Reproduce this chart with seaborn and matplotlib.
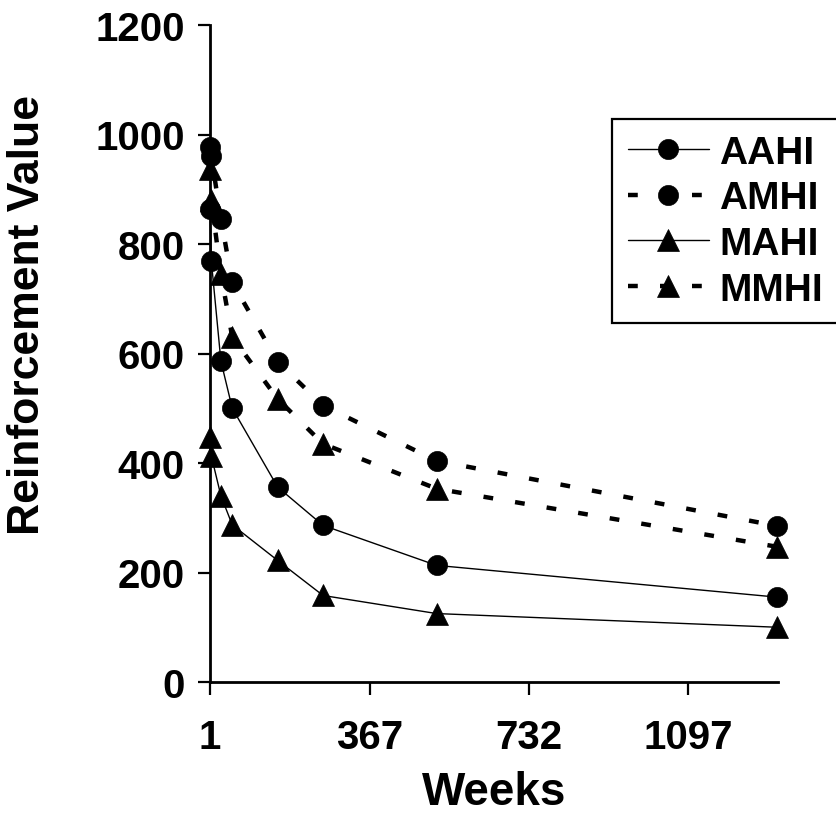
import matplotlib
matplotlib.use('Agg')
import matplotlib.pyplot as plt
import seaborn as sns
import pandas as pd

# ---- data ----
weeks = [1, 4, 26, 52, 156, 260, 520, 1300]
aahi = [864, 769, 586, 500, 356, 286, 213, 155]
amhi = [977, 960, 846, 730, 585, 505, 404, 285]
mahi = [447, 413, 340, 287, 222, 158, 125, 100]
mmhi = [937, 880, 745, 630, 517, 435, 353, 247]
series_names = ['AAHI', 'AMHI', 'MAHI', 'MMHI']
x_ticks = [1, 367, 732, 1097]
y_ticks = [0, 200, 400, 600, 800, 1000, 1200]

sns.set_theme(style='white')
plt.rcParams['font.family'] = ['Liberation Sans', 'DejaVu Sans']
plt.rcParams['font.weight'] = 'bold'

fig = plt.figure(figsize=(8.36, 8.20), dpi=100)
ax = fig.add_axes([210 / 836, 1 - 683 / 820, 568 / 836, 657 / 820])

values = {'AAHI': aahi, 'AMHI': amhi, 'MAHI': mahi, 'MMHI': mmhi}
dash = (0, (2.2, 5.0))
styles = {
    'AAHI': dict(marker='o', markersize=14.5, linewidth=1.0, linestyle='-'),
    'AMHI': dict(marker='o', markersize=14.5, linewidth=3.2, linestyle=dash),
    'MAHI': dict(marker='^', markersize=16.5, linewidth=1.0, linestyle='-'),
    'MMHI': dict(marker='^', markersize=16.5, linewidth=3.2, linestyle=dash),
}

for name in series_names:
    df = pd.DataFrame({'Weeks': weeks, 'Value': values[name]})
    sns.lineplot(data=df, x='Weeks', y='Value', ax=ax, color='black',
                 markeredgecolor='black', markerfacecolor='black',
                 markeredgewidth=0.5, label=name, estimator=None,
                 clip_on=False, **styles[name])

ax.set_xlim(1, 1302)
ax.set_ylim(0, 1200)
ax.set_xticks(x_ticks)
ax.set_xticklabels([str(t) for t in x_ticks])
ax.set_yticks(y_ticks)
ax.set_yticklabels([str(t) for t in y_ticks])

for side in ['top', 'right']:
    ax.spines[side].set_visible(False)
for side in ['left', 'bottom']:
    ax.spines[side].set_color('black')
    ax.spines[side].set_linewidth(2.0)

ax.tick_params(axis='both', direction='out', length=9, width=1.6,
               color='black', labelsize=29, labelcolor='black', left=True, bottom=True)
ax.tick_params(axis='y', pad=9)
ax.tick_params(axis='x', pad=17)
for lbl in ax.get_xticklabels() + ax.get_yticklabels():
    lbl.set_fontweight('bold')

ax.set_xlabel('Weeks', fontsize=33, fontweight='bold', color='black', labelpad=10)
ax.set_ylabel('Reinforcement Value', fontsize=32, fontweight='bold', color='black')
ax.yaxis.set_label_coords(-0.285, 0.56)

leg = ax.legend(loc='upper left', bbox_to_anchor=(612 / 836, 1 - 120 / 820),
                bbox_transform=fig.transFigure, borderaxespad=0,
                prop={'size': 28, 'weight': 'bold'}, handlelength=2.1,
                handletextpad=0.25, borderpad=0.4, labelspacing=0.25,
                frameon=True, fancybox=False, framealpha=1)
leg.get_frame().set_edgecolor('black')
leg.get_frame().set_linewidth(1.6)
for t in leg.get_texts():
    t.set_color('black')

fig.savefig('out.png', dpi=100)
